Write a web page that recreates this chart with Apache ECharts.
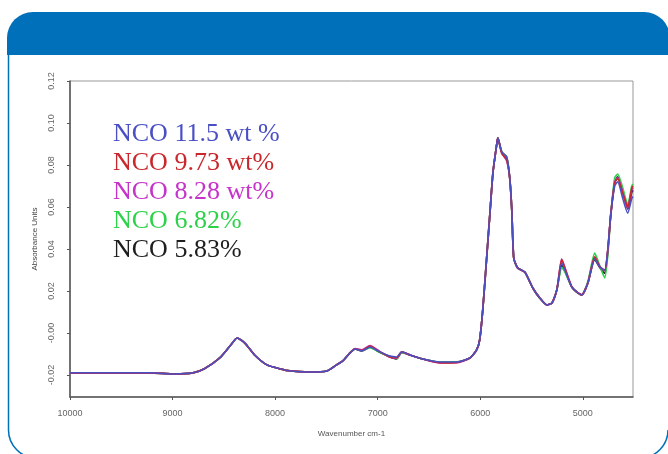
<!DOCTYPE html>
<html>
<head>
<meta charset="utf-8">
<script src="https://cdn.jsdelivr.net/npm/echarts@6/dist/echarts.min.js"></script>
<style>
  html, body { margin: 0; padding: 0; background: #fff; }
  #chart { width: 668px; height: 454px; }
</style>
</head>
<body>
<div id="chart"></div>
<script>
// wavenumbers (cm-1)
const wavenumbers = [10000, 9500, 9220, 8980, 8800, 8690, 8540, 8440, 8370, 8295, 8200, 8080, 7950, 7855, 7660, 7495, 7400, 7340, 7270, 7220, 7155, 7075, 6980, 6880, 6815, 6765, 6685, 6560, 6395, 6230, 6100, 6035, 6005, 5975, 5935, 5905, 5875, 5840, 5828, 5790, 5742, 5712, 5692, 5673, 5635, 5565, 5487, 5420, 5350, 5300, 5253, 5205, 5175, 5107, 5058, 5010, 4950, 4883, 4834, 4786, 4756, 4727, 4688, 4659, 4610, 4561, 4522, 4510]

const nco115 = [-0.0190, -0.0190, -0.0190, -0.0195, -0.0190, -0.0171, -0.0119, -0.0062, -0.0024, -0.0048, -0.0105, -0.0152, -0.0171, -0.0181, -0.0186, -0.0181, -0.0152, -0.0133, -0.0095, -0.0076, -0.0086, -0.0067, -0.0090, -0.0110, -0.0114, -0.0090, -0.0105, -0.0124, -0.0138, -0.0138, -0.0119, -0.0081, -0.0033, 0.0110, 0.0371, 0.0571, 0.0767, 0.0895, 0.0929, 0.0862, 0.0838, 0.0738, 0.0586, 0.0357, 0.0310, 0.0290, 0.0214, 0.0167, 0.0133, 0.0143, 0.0205, 0.0333, 0.0300, 0.0219, 0.0195, 0.0181, 0.0238, 0.0352, 0.0314, 0.0300, 0.0395, 0.0562, 0.0700, 0.0720, 0.0640, 0.0570, 0.0640, 0.0650]
const nco973 = [-0.0190, -0.0190, -0.0190, -0.0195, -0.0190, -0.0171, -0.0119, -0.0062, -0.0024, -0.0048, -0.0105, -0.0152, -0.0171, -0.0181, -0.0186, -0.0181, -0.0152, -0.0133, -0.0095, -0.0076, -0.0084, -0.0062, -0.0090, -0.0114, -0.0118, -0.0090, -0.0105, -0.0124, -0.0142, -0.0141, -0.0119, -0.0081, -0.0033, 0.0110, 0.0371, 0.0571, 0.0767, 0.0895, 0.0929, 0.0855, 0.0825, 0.0738, 0.0586, 0.0357, 0.0310, 0.0290, 0.0214, 0.0167, 0.0133, 0.0143, 0.0205, 0.0350, 0.0310, 0.0219, 0.0195, 0.0181, 0.0238, 0.0362, 0.0316, 0.0298, 0.0395, 0.0562, 0.0715, 0.0735, 0.0665, 0.0600, 0.0690, 0.0700]
const nco828 = [-0.0190, -0.0190, -0.0190, -0.0195, -0.0190, -0.0171, -0.0119, -0.0062, -0.0024, -0.0048, -0.0105, -0.0152, -0.0171, -0.0181, -0.0186, -0.0181, -0.0152, -0.0133, -0.0095, -0.0074, -0.0080, -0.0060, -0.0088, -0.0116, -0.0120, -0.0090, -0.0105, -0.0124, -0.0143, -0.0142, -0.0119, -0.0081, -0.0033, 0.0110, 0.0371, 0.0571, 0.0767, 0.0895, 0.0929, 0.0858, 0.0820, 0.0738, 0.0586, 0.0357, 0.0310, 0.0290, 0.0214, 0.0167, 0.0133, 0.0143, 0.0205, 0.0352, 0.0312, 0.0219, 0.0195, 0.0181, 0.0238, 0.0360, 0.0316, 0.0296, 0.0395, 0.0562, 0.0720, 0.0740, 0.0670, 0.0595, 0.0680, 0.0690]
const nco682 = [-0.0190, -0.0190, -0.0190, -0.0195, -0.0190, -0.0171, -0.0119, -0.0062, -0.0024, -0.0048, -0.0105, -0.0152, -0.0171, -0.0181, -0.0186, -0.0181, -0.0152, -0.0133, -0.0095, -0.0076, -0.0086, -0.0070, -0.0092, -0.0112, -0.0122, -0.0092, -0.0105, -0.0124, -0.0138, -0.0138, -0.0119, -0.0081, -0.0033, 0.0110, 0.0371, 0.0571, 0.0767, 0.0895, 0.0929, 0.0862, 0.0836, 0.0738, 0.0586, 0.0357, 0.0310, 0.0290, 0.0214, 0.0167, 0.0133, 0.0143, 0.0205, 0.0312, 0.0292, 0.0219, 0.0195, 0.0181, 0.0245, 0.0380, 0.0320, 0.0262, 0.0370, 0.0562, 0.0740, 0.0757, 0.0690, 0.0610, 0.0700, 0.0710]
const nco583 = [-0.0190, -0.0190, -0.0190, -0.0195, -0.0190, -0.0171, -0.0119, -0.0062, -0.0024, -0.0048, -0.0105, -0.0152, -0.0171, -0.0181, -0.0186, -0.0181, -0.0152, -0.0133, -0.0095, -0.0076, -0.0086, -0.0068, -0.0092, -0.0114, -0.0124, -0.0092, -0.0105, -0.0124, -0.0139, -0.0139, -0.0119, -0.0081, -0.0033, 0.0110, 0.0371, 0.0571, 0.0767, 0.0895, 0.0929, 0.0862, 0.0838, 0.0738, 0.0586, 0.0357, 0.0310, 0.0290, 0.0214, 0.0167, 0.0133, 0.0143, 0.0205, 0.0322, 0.0296, 0.0219, 0.0195, 0.0181, 0.0238, 0.0350, 0.0312, 0.0285, 0.0385, 0.0562, 0.0720, 0.0743, 0.0671, 0.0590, 0.0670, 0.0680]

const seriesNames = ["NCO 11.5 wt %", "NCO 9.73 wt%", "NCO 8.28 wt%", "NCO 6.82%", "NCO 5.83%"]
const seriesColors = ["#4a4fc4", "#c8282c", "#c534c8", "#2ed24a", "#1e1e1e"]

const xTickVals = [10000, 9000, 8000, 7000, 6000, 5000]
const xTickLabels = ["10000", "9000", "8000", "7000", "6000", "5000"]
const yTickVals = [-0.02, 0, 0.02, 0.04, 0.06, 0.08, 0.10, 0.12]
const yTickLabels = ["-0.02", "-0.00", "0.02", "0.04", "0.06", "0.08", "0.10", "0.12"]

const allValues = [nco115, nco973, nco828, nco682, nco583]

const myChart = echarts.init(document.getElementById("chart"))

function pairs(vals) {
	return wavenumbers.map((w, i) => [w, vals[i]])
}

// draw black first so the blue one sits on top, as in the picture
const drawOrder = [4, 3, 2, 1, 0]
const series = drawOrder.map((k) => ({
	name: seriesNames[k],
	type: "line",
	data: pairs(allValues[k]),
	symbol: "none",
	smooth: 0.2,
	lineStyle: { color: seriesColors[k], width: k === 0 ? 1.5 : 1.7 },
	itemStyle: { color: seriesColors[k] },
	z: 10 - k,
}))

const blue = "#0070ba"
const frameLine = { fill: null, stroke: blue, lineWidth: 1.5 }

const option = {
	animation: false,
	backgroundColor: "#fff",
	graphic: [
		{
			type: "rect",
			shape: { x: 7, y: 12, width: 663, height: 43, r: [26, 26, 0, 0] },
			style: { fill: blue },
			silent: true,
		},
		// thin frame under the header: left side, rounded bottom corners
		{
			type: "polyline",
			shape: { points: [[8.5, 55], [8.5, 430]] },
			style: frameLine,
			silent: true,
		},
		{
			type: "arc",
			shape: { cx: 36.5, cy: 430, r: 28, startAngle: Math.PI / 2, endAngle: Math.PI, clockwise: true },
			style: frameLine,
			silent: true,
		},
		{
			type: "arc",
			shape: { cx: 640, cy: 430, r: 28, startAngle: 0, endAngle: Math.PI / 2, clockwise: true },
			style: frameLine,
			silent: true,
		},
	],
	legend: {
		orient: "vertical",
		left: 103,
		top: 116,
		icon: "none",
		itemWidth: 0,
		itemHeight: 14,
		itemGap: 3,
		selectedMode: false,
		data: seriesNames.map((n, i) => ({
			name: n,
			textStyle: { color: seriesColors[i] },
		})),
		textStyle: {
			fontFamily: "Liberation Serif",
			fontSize: 26,
			lineHeight: 26,
		},
	},
	grid: {
		left: 70,
		right: 35,
		top: 81,
		bottom: 57,
		show: true,
		borderColor: "#999",
		borderWidth: 1,
	},
	xAxis: {
		type: "value",
		inverse: true,
		min: 4510,
		max: 10000,
		name: "Wavenumber cm-1",
		nameLocation: "middle",
		nameGap: 33,
		nameTextStyle: { fontFamily: "Liberation Sans", fontSize: 8, color: "#555" },
		axisLine: { show: true, onZero: false, lineStyle: { color: "#555", width: 1.5 } },
		axisTick: { show: true, length: 3, customValues: xTickVals, lineStyle: { color: "#555" } },
		axisLabel: {
			customValues: xTickVals,
			fontFamily: "Liberation Sans",
			fontSize: 9,
			color: "#666",
			margin: 12,
			formatter: (v) => xTickLabels[xTickVals.indexOf(v)],
		},
		splitLine: { show: false },
	},
	yAxis: {
		type: "value",
		min: -0.0305,
		max: 0.12,
		name: "Absorbance Units",
		nameLocation: "middle",
		nameGap: 30,
		nameTextStyle: { fontFamily: "Liberation Sans", fontSize: 8, color: "#444" },
		axisLine: { show: true, onZero: false, lineStyle: { color: "#555", width: 1.5 } },
		axisTick: { show: true, length: 3, customValues: yTickVals, lineStyle: { color: "#555" } },
		axisLabel: {
			customValues: yTickVals,
			rotate: 90,
			fontFamily: "Liberation Sans",
			fontSize: 9,
			color: "#666",
			margin: 14,
			formatter: (v) => {
				const i = yTickVals.findIndex((t) => Math.abs(t - v) < 1e-9)
				return i >= 0 ? yTickLabels[i] : ""
			},
		},
		splitLine: { show: false },
	},
	series: series,
}

myChart.setOption(option)
</script>
</body>
</html>
